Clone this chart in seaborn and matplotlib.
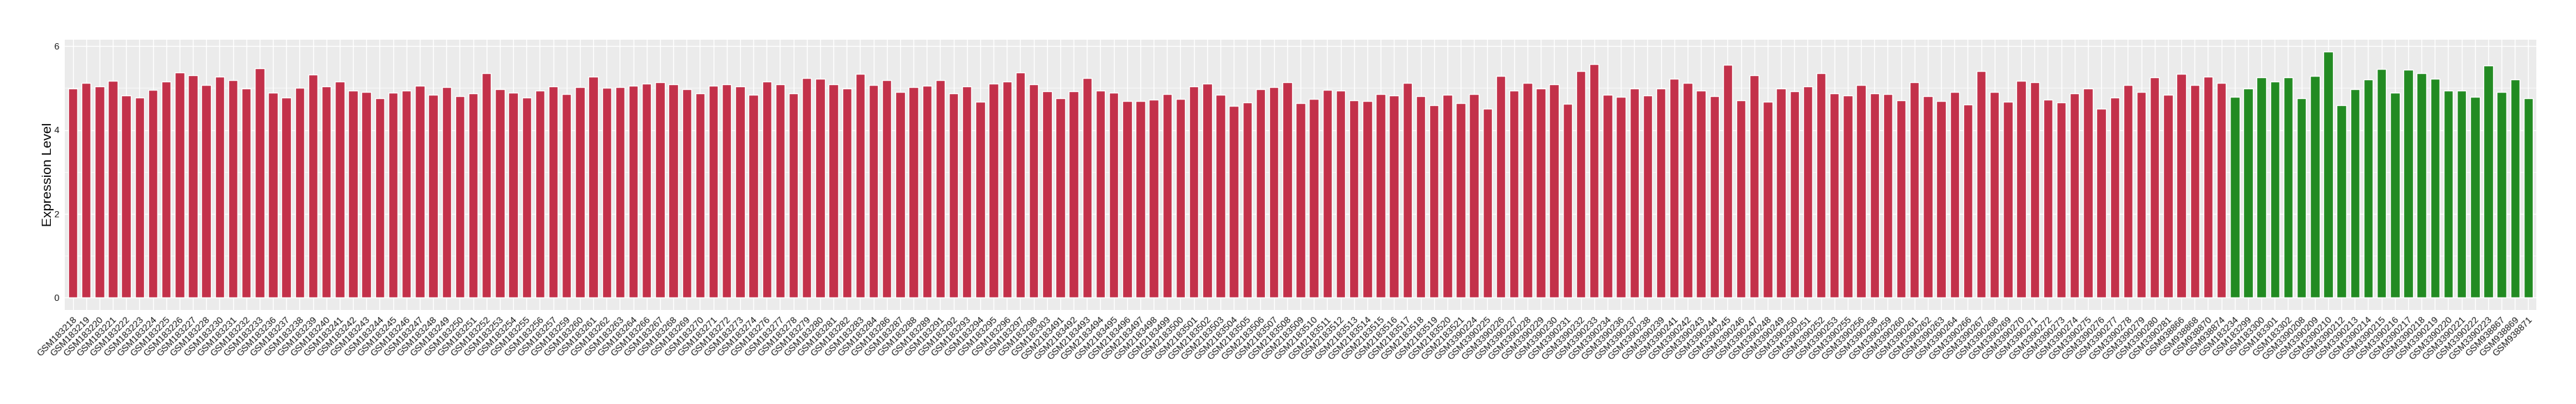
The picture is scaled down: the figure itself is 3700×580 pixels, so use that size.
import matplotlib
matplotlib.use("Agg")
import matplotlib.pyplot as plt
from matplotlib.ticker import MultipleLocator
import pandas as pd
import seaborn as sns

# sample ids, in plotting order
red_ids_gsm1832 = [
    "GSM183218", "GSM183219", "GSM183220", "GSM183221", "GSM183222", "GSM183223",
    "GSM183224", "GSM183225", "GSM183226", "GSM183227", "GSM183228", "GSM183230",
    "GSM183231", "GSM183232", "GSM183233", "GSM183236", "GSM183237", "GSM183238",
    "GSM183239", "GSM183240", "GSM183241", "GSM183242", "GSM183243", "GSM183244",
    "GSM183245", "GSM183246", "GSM183247", "GSM183248", "GSM183249", "GSM183250",
    "GSM183251", "GSM183252", "GSM183253", "GSM183254", "GSM183255", "GSM183256",
    "GSM183257", "GSM183259", "GSM183260", "GSM183261", "GSM183262", "GSM183263",
    "GSM183264", "GSM183266", "GSM183267", "GSM183268", "GSM183269", "GSM183270",
    "GSM183271", "GSM183272", "GSM183273", "GSM183274", "GSM183276", "GSM183277",
    "GSM183278", "GSM183279", "GSM183280", "GSM183281", "GSM183282", "GSM183283",
    "GSM183284", "GSM183286", "GSM183287", "GSM183288", "GSM183289", "GSM183291",
    "GSM183292", "GSM183293", "GSM183294", "GSM183295", "GSM183296", "GSM183297",
    "GSM183298", "GSM183303",
]
red_ids_gsm2183 = [
    "GSM2183491", "GSM2183492", "GSM2183493", "GSM2183494", "GSM2183495", "GSM2183496",
    "GSM2183497", "GSM2183498", "GSM2183499", "GSM2183500", "GSM2183501", "GSM2183502",
    "GSM2183503", "GSM2183504", "GSM2183505", "GSM2183506", "GSM2183507", "GSM2183508",
    "GSM2183509", "GSM2183510", "GSM2183511", "GSM2183512", "GSM2183513", "GSM2183514",
    "GSM2183515", "GSM2183516", "GSM2183517", "GSM2183518", "GSM2183519", "GSM2183520",
    "GSM2183521",
]
red_ids_gsm3390 = [
    "GSM3390224", "GSM3390225", "GSM3390226", "GSM3390227", "GSM3390228", "GSM3390229",
    "GSM3390230", "GSM3390231", "GSM3390232", "GSM3390233", "GSM3390234", "GSM3390236",
    "GSM3390237", "GSM3390238", "GSM3390239", "GSM3390241", "GSM3390242", "GSM3390243",
    "GSM3390244", "GSM3390245", "GSM3390246", "GSM3390247", "GSM3390248", "GSM3390249",
    "GSM3390250", "GSM3390251", "GSM3390252", "GSM3390253", "GSM3390255", "GSM3390256",
    "GSM3390258", "GSM3390259", "GSM3390260", "GSM3390261", "GSM3390262", "GSM3390263",
    "GSM3390264", "GSM3390266", "GSM3390267", "GSM3390268", "GSM3390269", "GSM3390270",
    "GSM3390271", "GSM3390272", "GSM3390273", "GSM3390274", "GSM3390275", "GSM3390276",
    "GSM3390277", "GSM3390278", "GSM3390279", "GSM3390280", "GSM3390281",
]
red_ids_gsm9388 = ["GSM938866", "GSM938868", "GSM938870", "GSM938874"]

green_ids = [
    "GSM183234", "GSM183299", "GSM183300", "GSM183301", "GSM183302",
    "GSM3390208", "GSM3390209", "GSM3390210", "GSM3390212", "GSM3390213",
    "GSM3390214", "GSM3390215", "GSM3390216", "GSM3390217", "GSM3390218",
    "GSM3390219", "GSM3390220", "GSM3390221", "GSM3390222", "GSM3390223",
    "GSM938867", "GSM938869", "GSM938871",
]

red_values = [
    4.99, 5.12, 5.04, 5.17, 4.83, 4.78, 4.96, 5.16, 5.37, 5.31, 5.07, 5.27,
    5.19, 4.99, 5.47, 4.89, 4.78, 5.01, 5.32, 5.04, 5.16, 4.94, 4.91, 4.76,
    4.89, 4.94, 5.06, 4.84, 5.02, 4.81, 4.88, 5.36, 4.98, 4.89, 4.78, 4.94,
    5.04, 4.86, 5.02, 5.27, 5.01, 5.02, 5.06, 5.11, 5.14, 5.09, 4.98, 4.88,
    5.06, 5.09, 5.04, 4.84, 5.16, 5.09, 4.88, 5.24, 5.22, 5.09, 4.99, 5.34,
    5.07, 5.19, 4.91, 5.02, 5.06, 5.19, 4.88, 5.04, 4.68, 5.11, 5.16, 5.37,
    5.09, 4.93, 4.76, 4.93, 5.24, 4.94, 4.89, 4.69, 4.69, 4.73, 4.86, 4.74,
    5.04, 5.11, 4.84, 4.58, 4.66, 4.98, 5.02, 5.14, 4.64, 4.74,
    4.96, 4.94, 4.71, 4.69, 4.86, 4.83, 5.12, 4.81, 4.59, 4.84, 4.64, 4.86,
    4.51, 5.29, 4.94, 5.12, 4.99, 5.09, 4.63, 5.41, 5.57, 4.84, 4.79, 4.99,
    4.83, 4.99, 5.22, 5.12, 4.94, 4.81, 5.56, 4.71, 5.31, 4.68, 4.99, 4.93,
    5.04, 5.36, 4.88, 4.83, 5.07, 4.88, 4.86, 4.71, 5.14, 4.81, 4.69,
    4.91, 4.61, 5.41, 4.91, 4.68, 5.17, 5.14, 4.73, 4.66, 4.88, 4.99, 4.51,
    4.78, 5.07, 4.91, 5.26, 4.84, 5.34, 5.07, 5.27, 5.12,
]
green_values = [
    4.79, 4.99, 5.26, 5.16, 5.26, 4.76, 5.29, 5.87, 4.59, 4.98, 5.21, 5.46,
    4.89, 5.44, 5.36, 5.22, 4.94, 4.94, 4.79, 5.54, 4.91, 5.21, 4.76,
]

RED = "#C3314A"
GREEN = "#228B22"

red_ids = red_ids_gsm1832 + red_ids_gsm2183 + red_ids_gsm3390 + red_ids_gsm9388
df = pd.DataFrame({
    "sample": red_ids + green_ids,
    "value": red_values + green_values,
    "group": ["red"] * len(red_ids) + ["green"] * len(green_ids),
})
n = len(df)

sns.set_style("white")
plt.rcParams["font.family"] = ["Liberation Sans", "DejaVu Sans"]

fig = plt.figure(figsize=(37, 5.8), dpi=100)
ax = fig.add_axes([93 / 3700, 1 - 445 / 580, 3550 / 3700, (445 - 56.7) / 580])
ax.set_facecolor("#EBEBEB")

sns.barplot(data=df, x="sample", y="value", hue="group", order=df["sample"],
            palette={"red": RED, "green": GREEN}, width=0.7, saturation=1,
            dodge=False, legend=False, ax=ax, zorder=3)

ax.set_xlim(-0.6, n - 0.4)
ax.set_ylim(-0.2935, 6.16)
ax.yaxis.set_major_locator(MultipleLocator(2))
ax.yaxis.set_minor_locator(MultipleLocator(1))
ax.grid(True, which="major", color="white", linewidth=1.0, zorder=0)
ax.grid(True, which="minor", axis="y", color="white", linewidth=0.5, zorder=0)
ax.set_axisbelow(True)
for s in ax.spines.values():
    s.set_visible(False)

ax.tick_params(axis="both", which="major", length=3.8, width=0.8, color="#333333",
               labelcolor="#1A1A1A", labelsize=9.5, pad=2)
ax.tick_params(axis="y", which="minor", length=0)
plt.setp(ax.get_xticklabels(), rotation=45, ha="right", va="top",
         rotation_mode="anchor")

ax.set_xlabel("")
ax.set_ylabel("Expression Level", fontsize=14, color="black")
ax.yaxis.set_label_coords(-0.0042, 0.5)

fig.savefig("out.png", dpi=100)
